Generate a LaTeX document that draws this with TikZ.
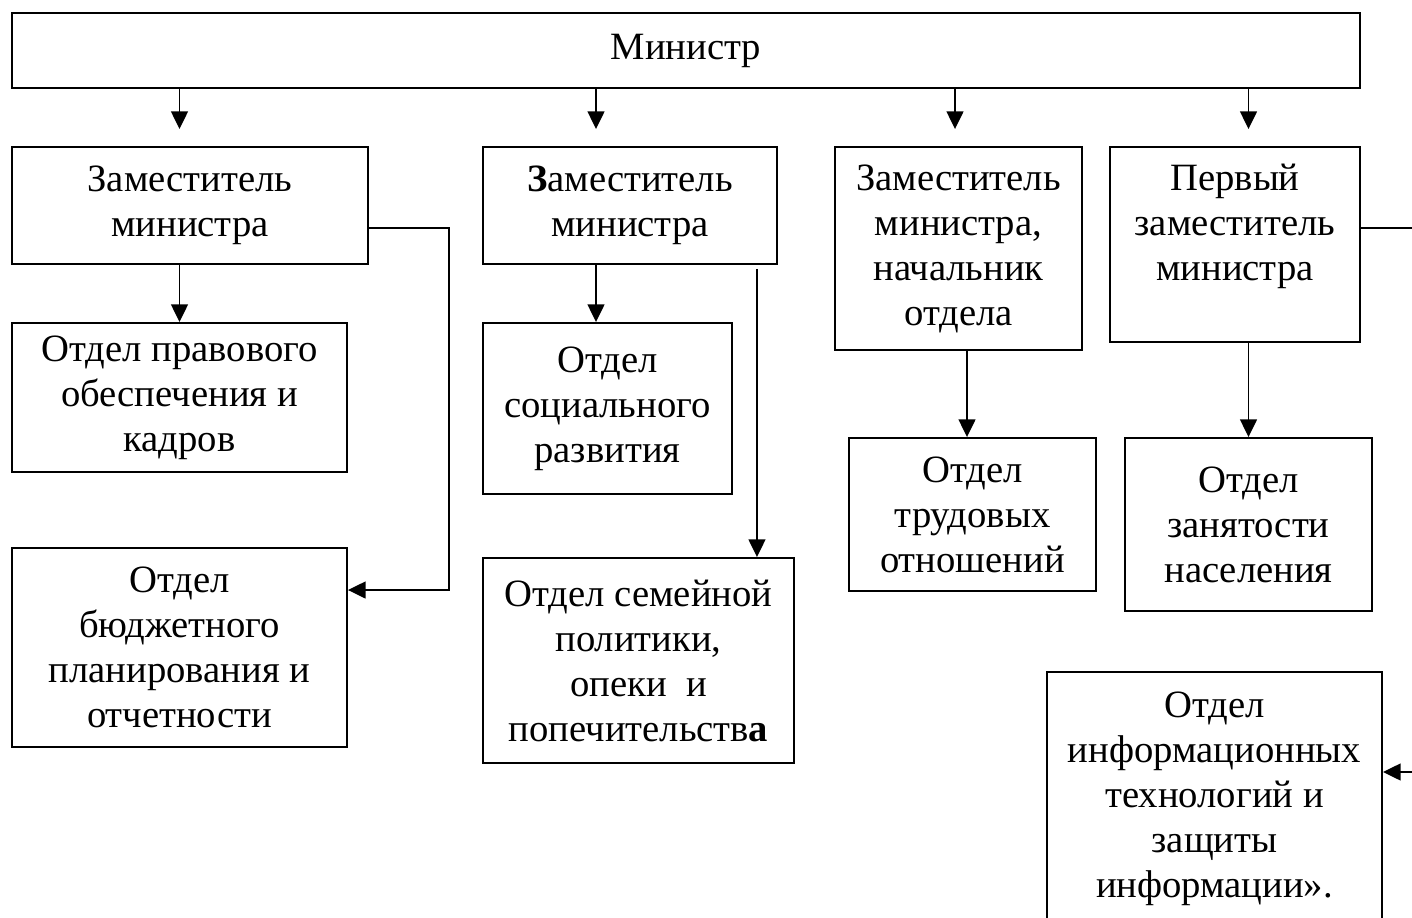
\documentclass[tikz,border=0pt]{standalone}
\usepackage{fontspec}
\setmainfont{Liberation Serif}
\usetikzlibrary{arrows.meta,positioning}
\newcommand{\boxfont}{\fontsize{22}{25.6}\selectfont}
\tikzset{
  box/.style={draw, line width=1.1pt, align=center, inner sep=0pt, font=\boxfont},
  arr/.style={-{Triangle[width=9.5pt,length=10pt]}, line width=1.1pt}
}
\begin{document}
\begin{tikzpicture}[x=0.02cm, y=-0.02cm]
\clip (0,0) rectangle (1412,918);
\node[box, minimum width=26.96cm, minimum height=1.5cm] (min) at (686,50.5) {Министр};
\node[box, minimum width=7.12cm, minimum height=2.34cm] (zam1) at (190,205.5) {Заместитель\\министра};
\node[box, minimum width=5.88cm, minimum height=2.34cm] (zam2) at (630,205.5) {\textbf{З}аместитель\\министра};
\node[box, minimum width=4.94cm, minimum height=4.06cm] (zam3) at (958.5,248.5) {Заместитель\\министра,\\начальник\\отдела};
\node[box, minimum width=5cm, minimum height=3.9cm] (perv) at (1235,244.5) {};
\node[align=center, inner sep=0pt, font=\boxfont] (pervtxt) at (1235,226) {Первый\\заместитель\\министра};
\node[box, minimum width=6.7cm, minimum height=2.98cm] (pravo) at (179.5,397.5) {Отдел правового\\обеспечения и\\кадров};
\node[box, minimum width=6.7cm, minimum height=3.98cm] (budget) at (179.5,647.5) {Отдел\\бюджетного\\планирования и\\отчетности};
\node[box, minimum width=4.98cm, minimum height=3.42cm] (soc) at (607.5,408.5) {Отдел\\социального\\развития};
\node[box, minimum width=6.22cm, minimum height=4.1cm] (sem) at (638.5,660.5) {Отдел семейной\\политики,\\опеки\ \ и\\попечительств\textbf{а}};
\node[box, minimum width=4.94cm, minimum height=3.06cm] (trud) at (972.5,514.5) {Отдел\\трудовых\\отношений};
\node[box, minimum width=4.94cm, minimum height=3.46cm] (zan) at (1248.5,524.5) {Отдел\\занятости\\населения};
\node[box, minimum width=6.7cm, minimum height=5.08cm] (info) at (1214.5,799) {Отдел\\информационных\\технологий и\\защиты\\информации».};
\coordinate (outA) at (1412,228);
\coordinate (outB) at (1412,772);
\draw[arr, shorten >=0.34cm] (min.south -| pravo.north) -- (zam1.north -| pravo.north);
\draw[arr] (zam1.south -| pravo.north) -- (pravo.north);
\draw[arr, shorten >=0.34cm] ([xshift=-0.68cm]zam2.north |- min.south) -- ([xshift=-0.68cm]zam2.north);
\draw[arr] ([xshift=-0.23cm]soc.north |- zam2.south) -- ([xshift=-0.23cm]soc.north);
\draw[arr, shorten >=0.34cm] ([xshift=-0.07cm]zam3.north |- min.south) -- ([xshift=-0.07cm]zam3.north);
\draw[arr] ([xshift=-0.11cm]trud.north |- zam3.south) -- ([xshift=-0.11cm]trud.north);
\draw[arr, shorten >=0.34cm] (min.south -| zan.north) -- (perv.north -| zan.north);
\draw[arr] (perv.south -| zan.north) -- (zan.north);
\draw[arr] ([yshift=-0.45cm]zam1.east) -- ++(1.6cm,0) |- ([yshift=1.15cm]budget.east);
\draw[arr, shorten <=0.08cm] ([xshift=2.37cm]sem.north |- zam2.south) -- ([xshift=2.37cm]sem.north);
\draw[line width=1.1pt] (outA -| perv.east) -- (outA);
\draw[arr] (outB) -- (outB -| info.east);
\end{tikzpicture}
\end{document}
